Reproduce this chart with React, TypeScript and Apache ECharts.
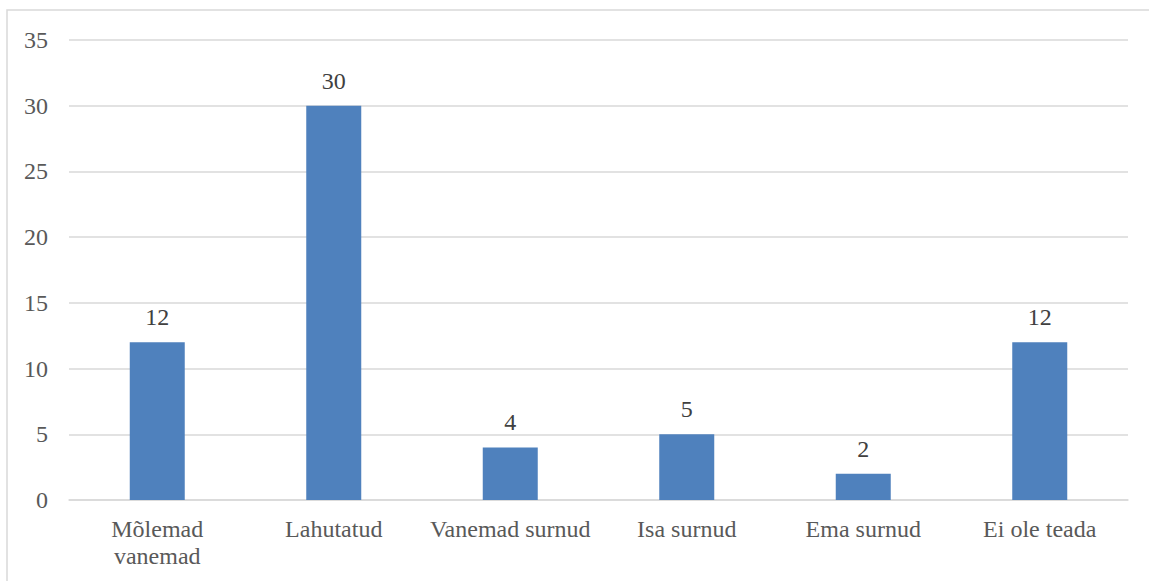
import React, { useEffect, useRef } from "react";
import * as echarts from "echarts";

const categories = ["Mõlemad\nvanemad", "Lahutatud", "Vanemad surnud", "Isa surnud", "Ema surnud", "Ei ole teada"];
const values = [12, 30, 4, 5, 2, 12];
const yMin = 0;
const yMax = 35;
const yStep = 5;

const FONT = "Liberation Serif, serif";

export default function App() {
  const ref = useRef<HTMLDivElement>(null);
  useEffect(() => {
    document.body.style.margin = "0";
    const chart = echarts.init(ref.current!, null, { renderer: "svg" });
    chart.setOption({
      animation: false,
      backgroundColor: "#ffffff",
      textStyle: { fontFamily: FONT },
      graphic: [
        {
          type: "rect",
          shape: { x: 7, y: 10, width: 1200, height: 650 },
          style: { fill: "none", stroke: "#d9d9d9", lineWidth: 1.5 },
          silent: true,
        },
      ],
      grid: { left: 69, right: 21, top: 40, bottom: 81 },
      xAxis: {
        type: "category",
        data: categories,
        axisLine: { show: true, lineStyle: { color: "#d9d9d9", width: 1.5 } },
        axisTick: { show: false },
        axisLabel: {
          color: "#595959",
          fontFamily: FONT,
          fontSize: 24,
          margin: 15,
          lineHeight: 27,
          interval: 0,
        },
      },
      yAxis: {
        type: "value",
        min: yMin,
        max: yMax,
        interval: yStep,
        axisLine: { show: false },
        axisTick: { show: false },
        splitLine: { lineStyle: { color: "#d9d9d9", width: 1.5 } },
        axisLabel: {
          color: "#595959",
          fontFamily: FONT,
          fontSize: 24,
          margin: 21,
        },
      },
      series: [
        {
          type: "bar",
          data: values,
          barWidth: 55,
          itemStyle: { color: "#4F81BD" },
          label: {
            show: true,
            position: "top",
            distance: 13,
            color: "#404040",
            fontFamily: FONT,
            fontSize: 24,
          },
        },
      ],
    });
    return () => chart.dispose();
  }, []);
  return (
    <div
      ref={ref}
      style={{ position: "fixed", left: 0, top: 0, width: 1149, height: 581 }}
    />
  );
}
